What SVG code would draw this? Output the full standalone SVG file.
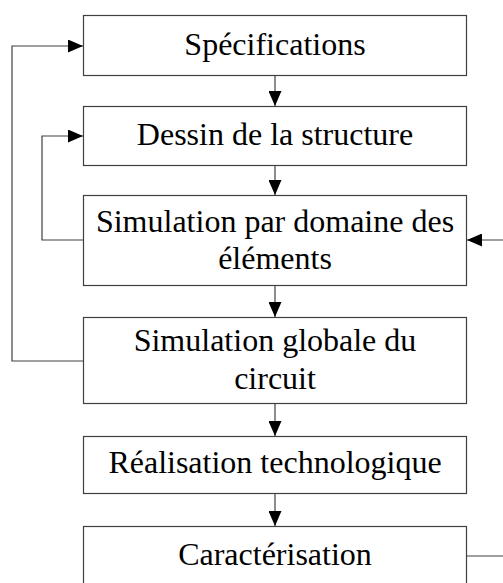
<svg xmlns="http://www.w3.org/2000/svg" width="503" height="583" viewBox="0 0 503 583">
<style>
.box{fill:#fff;stroke:#404040;stroke-width:1.2}
.t{font-family:"Liberation Serif","Times New Roman",serif;font-size:32px;fill:#000;text-anchor:middle}
.c{fill:none;stroke:#404040;stroke-width:1.2}
</style>
<defs>
<marker id="ah" markerWidth="15" markerHeight="13" refX="15" refY="6.5" orient="auto" markerUnits="userSpaceOnUse">
<path d="M0,0 L15,6.5 L0,13 Z" fill="#000"/>
</marker>
</defs>
<rect width="503" height="583" fill="#fff"/>
<g id="connectors">
<path class="c" d="M275,75 V106" marker-end="url(#ah)"/>
<path class="c" d="M275,166 V195" marker-end="url(#ah)"/>
<path class="c" d="M275,286 V317" marker-end="url(#ah)"/>
<path class="c" d="M275,404 V436" marker-end="url(#ah)"/>
<path class="c" d="M275,493 V526" marker-end="url(#ah)"/>
<path class="c" d="M83,361 H12 V46 H83" marker-end="url(#ah)"/>
<path class="c" d="M83,240 H42 V136 H83" marker-end="url(#ah)"/>
<path class="c" d="M503,240 H467" marker-end="url(#ah)"/>
<path class="c" d="M467,556 H503"/>
</g>
<g id="n1"><rect class="box" x="83.5" y="15.5" width="383" height="60"/><text class="t" x="275" y="55">Spécifications</text></g>
<g id="n2"><rect class="box" x="83.5" y="106.5" width="383" height="59"/><text class="t" x="275" y="145">Dessin de la structure</text></g>
<g id="n3"><rect class="box" x="83.5" y="195.5" width="383" height="90"/><text class="t" x="275" y="232">Simulation par domaine des</text><text class="t" x="275" y="269">éléments</text></g>
<g id="n4"><rect class="box" x="83.5" y="317.5" width="383" height="86"/><text class="t" x="275" y="351">Simulation globale du</text><text class="t" x="275" y="389">circuit</text></g>
<g id="n5"><rect class="box" x="83.5" y="436.5" width="383" height="57"/><text class="t" x="275" y="473">Réalisation technologique</text></g>
<g id="n6"><rect class="box" x="83.5" y="526.5" width="383" height="70"/><text class="t" x="275" y="565">Caractérisation</text></g>
</svg>
